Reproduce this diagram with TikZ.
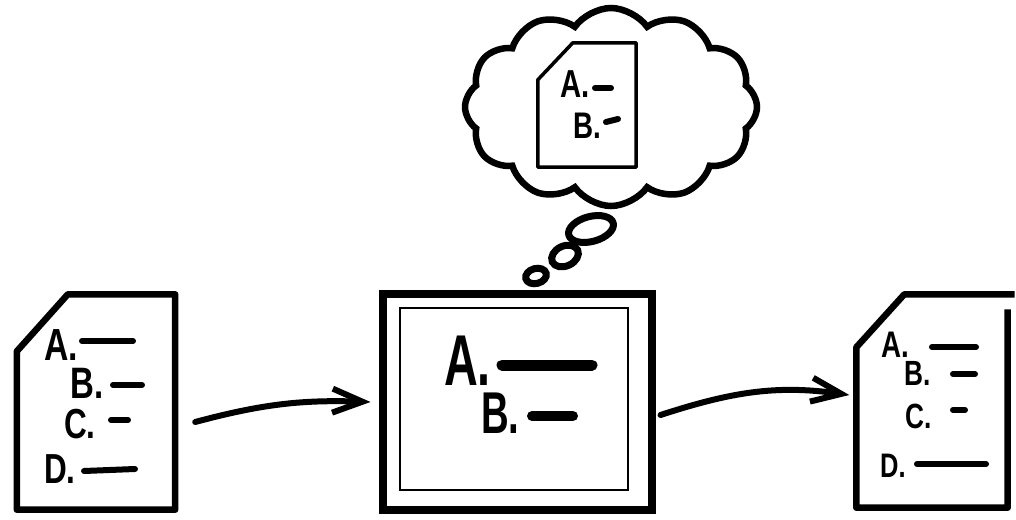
\documentclass[tikz,border=0pt]{standalone}
\usepackage{fontspec}
\setmainfont{Liberation Sans}
\newfontfamily\hand[FakeStretch=0.75]{Liberation Sans}
\newfontfamily\handnarrow[FakeStretch=0.65]{Liberation Sans}
\usetikzlibrary{arrows.meta, shapes.symbols, shapes.geometric}

\tikzset{
  sheet/.style={line width=6.5pt, line join=round},
  ans/.style={line width=6pt, line cap=round},
  lbl/.style={anchor=base west, font=\hand\bfseries\fontsize{#1}{#1}\selectfont},
  biglbl/.style={anchor=base west, font=\handnarrow\bfseries\fontsize{#1}{#1}\selectfont},
  bubble/.style={draw, ellipse, line width=7pt},
  flow/.style={line width=6pt, line cap=round, -{Straight Barb[length=30pt, width=24pt]}}
}

\begin{document}
\begin{tikzpicture}[x=1pt, y=-1pt, every node/.style={inner sep=0pt}]
\useasboundingbox (0,0) rectangle (1016,519);

% input sheet
\node[minimum width=158pt, minimum height=215pt] (input) at (96,402) {};
\draw[sheet] (input.north east) -- (input.south east) -- (input.south west)
  -- ([yshift=-57pt]input.north west) -- ([xshift=51pt]input.north west) -- cycle;
\node[lbl=45] (inA) at (44,360) {A.};
\node[lbl=44] (inB) at (70,398) {B.};
\node[lbl=42] (inC) at (64,438) {C.};
\node[lbl=42] (inD) at (44,483) {D.};
\draw[ans] (82,341) -- (133,341);
\draw[ans] (113,385) -- (142,385);
\draw[ans] (111,420) -- (128,420);
\draw[ans] (84,471) -- (135,469);

% the model
\node[draw, line width=8pt, minimum width=269pt, minimum height=216pt] (model) at (517,402) {};
\node[draw, line width=2.5pt, minimum width=228pt, minimum height=182pt] (screen) at (514,399) {};
\node[biglbl=72] (mdA) at (444,385) {A.};
\node[biglbl=59] (mdB) at (481,433) {B.};
\draw[line width=11pt, line cap=round] (502,365) -- (592,365);
\draw[line width=10pt, line cap=round] (532,416) -- (573,416);

% thought
\node[cloud, draw, line width=6.5pt, cloud puffs=12, cloud puff arc=110, aspect=1.45, minimum width=292pt, minimum height=198pt] (thought) at (611,107) {};
\node[minimum width=98pt, minimum height=124pt] (idea) at (587,105) {};
\draw[sheet, line width=3.5pt] (idea.north east) -- (idea.south east) -- (idea.south west)
  -- ([yshift=-37pt]idea.north west) -- ([xshift=35pt]idea.north west) -- cycle;
\node[lbl=39] (thA) at (560,97) {A.};
\node[lbl=37] (thB) at (573,138) {B.};
\draw[ans] (595,88) -- (611,88);
\draw[ans] (606,122) -- (618,119);
\node[bubble, minimum width=46pt, minimum height=25pt, rotate=15] (bubA) at (591,229) {};
\node[bubble, minimum width=28pt, minimum height=20pt, rotate=25] (bubB) at (565,256) {};
\node[bubble, minimum width=21pt, minimum height=15pt, rotate=15] (bubC) at (536,276) {};

% output sheet
\node[minimum width=151pt, minimum height=213pt] (output) at (932,401) {};
\draw[sheet] ([yshift=-15pt]output.north east) -- (output.south east) -- (output.south west)
  -- ([yshift=-53pt]output.north west) -- ([xshift=48pt]output.north west) -- ([xshift=7pt]output.north east);
\node[lbl=37] (outA) at (881,357) {A.};
\node[lbl=35] (outB) at (904,385) {B.};
\node[lbl=35] (outC) at (905,428) {C.};
\node[lbl=34] (outD) at (880,477) {D.};
\draw[ans] (932,347) -- (976,347);
\draw[ans] (953,374) -- (975,374);
\draw[ans] (953,410) -- (965,410);
\draw[ans] (917,464) -- (986,464);

% arrows
\draw[flow] ([xshift=20pt, yshift=-20pt]input.east) to[out=15, in=178] ([xshift=-8pt]model.west);
\draw[flow] ([xshift=5pt, yshift=-13pt]model.east) to[out=18, in=172] ([xshift=-7pt, yshift=6pt]output.west);
\end{tikzpicture}
\end{document}
